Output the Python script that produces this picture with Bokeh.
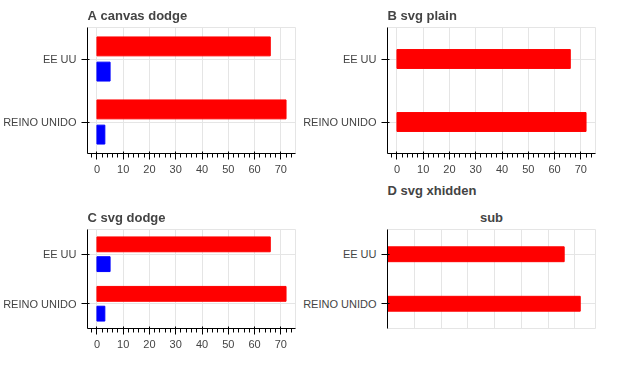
from bokeh.plotting import figure
from bokeh.models import ColumnDataSource, Range1d, Title
from bokeh.layouts import gridplot
from bokeh.transform import dodge
from bokeh.embed import file_html
from bokeh.resources import INLINE

categories = ["EE UU", "REINO UNIDO"]
aumentado = [66, 72]
reducido = [5, 3]

def base(backend, name):
    p = figure(width=300, height=175, output_backend=backend, toolbar_location=None,
               y_range=list(reversed(categories)), title=name)
    return p

src = lambda: ColumnDataSource(dict(cat=categories, a=aumentado, r=reducido))

# A: canvas, dodge
pA = base("canvas", "A canvas dodge")
s = src()
pA.hbar(y=dodge("cat", 0.2, range=pA.y_range), right="a", height=0.3, source=s, color="red")
pA.hbar(y=dodge("cat", -0.2, range=pA.y_range), right="r", height=0.3, source=s, color="blue")

# B: svg minimal, no dodge
pB = base("svg", "B svg plain")
pB.hbar(y="cat", right="a", height=0.3, source=src(), color="red")

# C: svg with dodge
pC = base("svg", "C svg dodge")
s = src()
pC.hbar(y=dodge("cat", 0.2, range=pC.y_range), right="a", height=0.3, source=s, color="red")
pC.hbar(y=dodge("cat", -0.2, range=pC.y_range), right="r", height=0.3, source=s, color="blue")

# D: svg plain + range1d + hidden xaxis + extra title
pD = base("svg", "D svg xhidden")
pD.x_range = Range1d(0, 77.7)
pD.hbar(y="cat", right="a", height=0.3, source=src(), color="red")
pD.xaxis.visible = False
pD.add_layout(Title(text="sub", align="center"), "above")

g = gridplot([[pA, pB], [pC, pD]], toolbar_location=None)
open("out.html", "w").write(file_html(g, INLINE))
